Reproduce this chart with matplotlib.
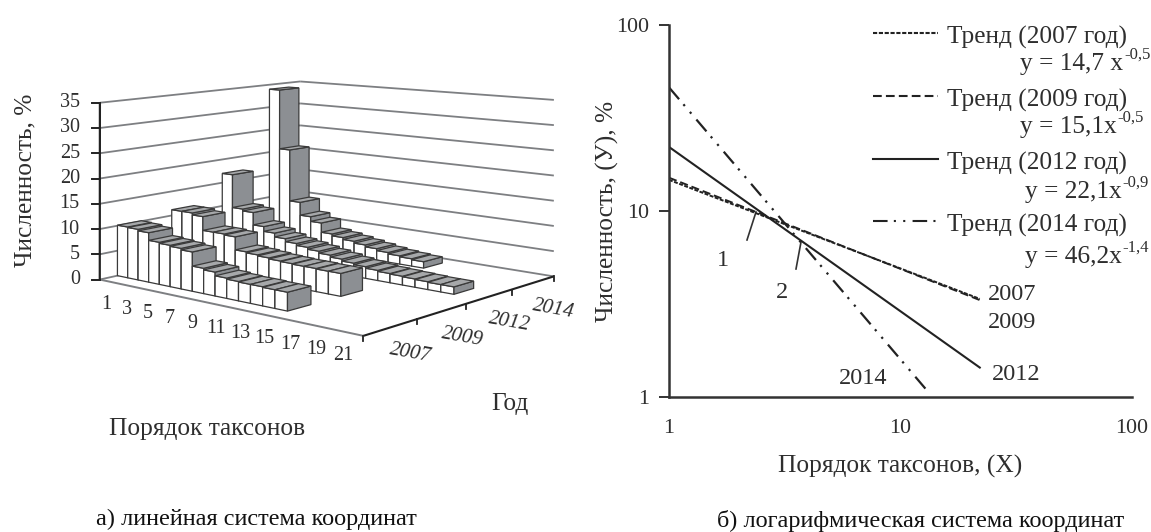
import numpy as np
import matplotlib
matplotlib.use("Agg")
import matplotlib.pyplot as plt
from matplotlib.patches import Polygon

plt.rcParams['font.family'] = ['Liberation Serif', 'DejaVu Serif']

# ---------- data: panel a (percent per taxon rank) ----------
years = ['2007', '2009', '2012', '2014']
rank_labels = [1, 3, 5, 7, 9, 11, 13, 15, 17, 19, 21]
z_ticks = [0, 5, 10, 15, 20, 25, 30, 35]
v2007 = [10.1, 10.0, 9.7, 8.2, 8.0, 7.8, 7.5, 4.8, 4.5, 3.8, 3.6, 3.5, 3.5, 3.4, 3.4]
v2009 = [11.2, 11.2, 10.8, 8.0, 8.0, 7.8, 5.2, 5.0, 4.8, 4.6, 4.5, 4.4, 4.4, 4.3, 4.3]
v2012 = [17.0, 10.0, 9.6, 7.0, 6.0, 5.2, 4.6, 4.2, 3.8, 3.4, 3.0, 2.6, 2.3, 2.0, 1.8, 1.7, 1.6, 1.5, 1.4, 1.4]
v2014 = [34.0, 21.0, 9.8, 7.0, 6.0, 4.0, 3.6, 3.2, 2.8, 2.4, 2.0, 1.7, 1.5, 1.3]
rows = [v2007, v2009, v2012, v2014]

# ---------- data: panel b (trend end points) ----------
x2007 = [1, 22];   y2007 = [14.7, 3.37]
x2009 = [1, 22];   y2009 = [15.1, 3.32]
x2012 = [1, 22];   y2012 = [22.1, 1.44]
x2014 = [1, 13.3]; y2014 = [46.2, 1.05]

TXT = '#2e2e2e'
FS = 18.3
W, H = 1151, 532
fig = plt.figure(figsize=(W / 100, H / 100), dpi=100)
bg = fig.add_axes([0, 0, 1, 1])
bg.set_xlim(0, W); bg.set_ylim(H, 0); bg.axis('off')

# perspective camera fitted to the box corners of the panel (layout, not data)
XMAX = 22
world = np.array([[0, 0, 0], [XMAX, 0, 0], [XMAX, 4, 0], [0, 4, 0],
                  [0, 0, 35], [XMAX, 4, 35], [0, 4, 35]], float)
image = np.array([[100, 281], [363, 335], [554, 277], [300, 234],
                  [100, 102], [554, 100], [300, 82]], float)
A, b = [], []
for (X, Y, Z), (u, v) in zip(world, image):
    A.append([X, Y, Z, 1, 0, 0, 0, 0, -u * X, -u * Y, -u * Z]); b.append(u)
    A.append([0, 0, 0, 0, X, Y, Z, 1, -v * X, -v * Y, -v * Z]); b.append(v)
P = np.append(np.linalg.lstsq(np.array(A), np.array(b), rcond=None)[0], 1).reshape(3, 4)

def proj(x, d, z):
    q = P @ np.array([x, d, z, 1.0])
    return q[:2] / q[2]

def seg(a, b_, color, lw, z=1):
    p, q = proj(*a), proj(*b_)
    bg.plot([p[0], q[0]], [p[1], q[1]], color=color, lw=lw, zorder=z, solid_capstyle='butt')

# walls
for zv in z_ticks:
    seg((0, 0, zv), (0, 4, zv), '#7d7f82', 1.3)
    seg((0, 4, zv), (XMAX, 4, zv), '#7d7f82', 1.3)
    p = proj(0, 0, zv)
    bg.plot([p[0] - 8, p[0]], [p[1], p[1]], color='#222222', lw=1.4, zorder=3)
    bg.text(p[0] - 20, p[1], str(zv), ha='right', va='center', fontsize=14.5, color=TXT)
seg((0, 0, 0), (0, 0, 35), '#222222', 1.6, 3)
seg((0, 0, 0), (XMAX, 0, 0), '#7d7f82', 1.4, 1)
seg((XMAX, 0, 0), (XMAX, 4, 0), '#222222', 1.5, 3)
for d in range(5):
    p = proj(XMAX, d, 0)
    bg.plot([p[0], p[0]], [p[1], p[1] + 5], color='#222222', lw=1.3, zorder=3)

# bars: back row first, then left to right
EDGE = '#3a3a3a'
zo = 10
def face(pts, color):
    global zo
    bg.add_patch(Polygon([proj(*p) for p in pts], closed=True, fc=color, ec=EDGE, lw=0.9, zorder=zo))
    zo += 1
D0, D1 = 0.31, 0.74
for i in reversed(range(4)):
    for k, val in enumerate(rows[i]):
        x0, x1, d0, d1 = k, k + 1, i + D0, i + D1
        face([(x0, d0, 0), (x1, d0, 0), (x1, d0, val), (x0, d0, val)], 'white')
        face([(x1, d0, 0), (x1, d1, 0), (x1, d1, val), (x1, d0, val)], '#8c8f93')
        face([(x0, d0, val), (x1, d0, val), (x1, d1, val), (x0, d1, val)], '#a6a8aa')

# axis labels of the 3-D panel
for lab in rank_labels:
    p = proj(lab - 0.5, 0, 0)
    bg.text(p[0] + 1, p[1] + 24, str(lab), ha='center', va='center', fontsize=14.5, color=TXT)
for i, y in enumerate(years):
    p = proj(XMAX, i + 0.5, 0)
    bg.text(p[0] + 20, p[1] + 26, y, ha='center', va='center', fontsize=15,
            style='italic', rotation=-10, rotation_mode='anchor', color=TXT)
bg.text(25, 180, 'Численность, %', rotation=90, ha='center', va='center', fontsize=FS, color=TXT)
bg.text(207, 429, 'Порядок таксонов', ha='center', va='center', fontsize=FS, color=TXT)
bg.text(510, 404, 'Год', ha='center', va='center', fontsize=FS, color=TXT)
bg.text(256, 519, 'а) линейная система координат', ha='center', va='center', fontsize=17.5, color='#111111')
bg.text(921, 521, 'б) логарифмическая система координат', ha='center', va='center', fontsize=17.5, color='#111111')

# ---------- panel b ----------
ax = fig.add_axes([669 / W, (H - 397) / H, 463 / W, 372 / H])
ax.patch.set_alpha(0)
ax.set_xscale('log'); ax.set_yscale('log')
ax.set_xlim(1, 100); ax.set_ylim(1, 100)
for s in ('top', 'right'):
    ax.spines[s].set_visible(False)
for s in ('left', 'bottom'):
    ax.spines[s].set_linewidth(1.8); ax.spines[s].set_color('#333333')
ax.set_xticks([1, 10, 100]); ax.set_xticklabels(['1', '10', '100'])
ax.set_yticks([1, 10, 100]); ax.set_yticklabels(['1', '10', '100'])
ax.minorticks_off()
ax.tick_params(axis='x', length=0, pad=16, labelsize=15.8, labelcolor=TXT)
ax.tick_params(axis='y', length=7, width=1.4, color='#333333', pad=7, labelsize=15.8, labelcolor=TXT)
ax.set_xlabel('Порядок таксонов, (Х)', fontsize=FS, color=TXT, labelpad=12)
ax.set_ylabel('Численность, (У), %', fontsize=FS, color=TXT, labelpad=-2)

st_2007 = (0, (2.0, 0.8)); st_2009 = (0, (4.2, 2.0)); st_2014 = (0, (7, 3, 1, 3.5, 1, 3.5))
ax.plot(x2007, y2007, color='#222222', lw=1.4, ls=st_2007)
ax.plot(x2009, y2009, color='#222222', lw=1.4, ls=st_2009)
ax.plot(x2012, y2012, color='#222222', lw=1.5)
ax.plot(x2014, y2014, color='#222222', lw=1.6, ls=st_2014)

# legend entries
legend = [('Тренд (2007 год)', 'y = 14,7 x', '-0,5', st_2007, 33, 64, 1020),
          ('Тренд (2009 год)', 'y = 15,1x', '-0,5', st_2009, 96, 127, 1020),
          ('Тренд (2012 год)', 'y = 22,1x', '-0,9', '-', 159, 192, 1025),
          ('Тренд (2014 год)', 'y = 46,2x', '-1,4', st_2014, 221, 257, 1025)]
for name, eq, power, st, y0, y1, xe in legend:
    bg.plot([873, 938], [y0, y0], color='#222222', lw=1.5, ls=st)
    bg.text(947, y0 + 4, name, ha='left', va='center', fontsize=FS, color=TXT)
    t = bg.text(xe, y1, eq, ha='left', va='center', fontsize=FS, color=TXT)
    bb = t.get_window_extent(fig.canvas.get_renderer())
    bg.text(bb.x1 + 1, y1 - 9, power, ha='left', va='center', fontsize=12, color=TXT)

# curve labels and leaders
for lab, px, py in [('2007', 1012, 294), ('2009', 1012, 323), ('2012', 1016, 374), ('2014', 863, 379)]:
    bg.text(px, py, lab, ha='center', va='center', fontsize=17.5, color=TXT)
for lab, px, py, x0, y0, x1, y1 in [('1', 723, 260, 747, 240, 756, 212), ('2', 782, 293, 796, 269, 801, 242)]:
    bg.text(px, py, lab, ha='center', va='center', fontsize=17.5, color=TXT)
    bg.plot([x0, x1], [y0, y1], color='#333333', lw=1.2)

fig.savefig('out.png', dpi=100)
